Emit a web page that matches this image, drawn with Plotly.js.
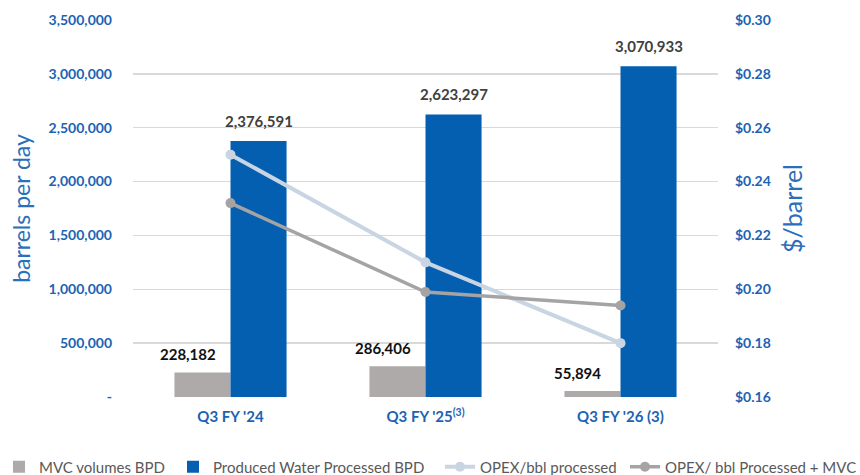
<!DOCTYPE html>
<html><head><meta charset="utf-8">
<script src="https://cdn.plot.ly/plotly-3.0.1.min.js"></script>
<style>html,body{margin:0;padding:0;background:#fff}#chart{width:860px;height:475px}</style>
</head><body><div id="chart"></div>
<script>
const categories = ["Q3 FY '24", "Q3 FY '25<sup>(3)</sup>", "Q3 FY '26 (3)"];
const mvcVolumes = [228182, 286406, 55894];
const producedWater = [2376591, 2623297, 3070933];
const opexProcessed = [0.250, 0.210, 0.180];
const opexProcessedMvc = [0.232, 0.199, 0.194];
const leftTickVals = [0, 500000, 1000000, 1500000, 2000000, 2500000, 3000000, 3500000];
const leftTickText = ["-", "500,000", "1,000,000", "1,500,000", "2,000,000", "2,500,000", "3,000,000", "3,500,000"];
const rightTickVals = [0.16, 0.18, 0.20, 0.22, 0.24, 0.26, 0.28, 0.30];
const rightTickText = ["$0.16", "$0.18", "$0.20", "$0.22", "$0.24", "$0.26", "$0.28", "$0.30"];

const FONT = "Lato, 'Open Sans', sans-serif";
const BLUE_TXT = "#1b63b3";
const fmt = v => v.toLocaleString('en-US');

const traces = [
  {type:'bar', name:'MVC volumes BPD', x:categories, y:mvcVolumes, legend:'legend',
   marker:{color:'#aeaaaa'}, hoverinfo:'none'},
  {type:'bar', name:'Produced Water Processed BPD', x:categories, y:producedWater, legend:'legend2',
   marker:{color:'#055fb0'}, hoverinfo:'none'},
  {type:'scatter', mode:'lines+markers', name:'OPEX/bbl processed', x:categories, y:opexProcessed, legend:'legend3',
   yaxis:'y2', line:{color:'#c9d5e3', width:4}, marker:{color:'#c9d5e3', size:10}, hoverinfo:'none'},
  {type:'scatter', mode:'lines+markers', name:'OPEX/ bbl Processed + MVC', x:categories, y:opexProcessedMvc, legend:'legend4',
   yaxis:'y2', line:{color:'#a5a3a3', width:3.5}, marker:{color:'#a5a3a3', size:10}, hoverinfo:'none'}
];

const annotations = categories.map((c, i) => ({
  x:c, y:mvcVolumes[i], xref:'x', yref:'y', text:fmt(mvcVolumes[i]), showarrow:false,
  xshift:-43, yshift:18, font:{family:FONT, size:15, color:'#111', weight:'bold'}
})).concat(categories.map((c, i) => ({
  x:c, y:producedWater[i], xref:'x', yref:'y', text:fmt(producedWater[i]), showarrow:false,
  xshift:28, yshift:20, font:{family:FONT, size:15, color:'#404040', weight:'bold'}
})));

const px = p => (p - 133) / 585;
const legendBase = (left) => ({orientation:'h', x:px(left), xanchor:'left', y:-0.1857, yanchor:'middle',
  font:{family:FONT, size:15, color:'#595959'}, itemwidth:30, bgcolor:'rgba(0,0,0,0)'});

const layout = {
  width:860, height:475,
  margin:{l:133, r:142, t:20, b:78, autoexpand:false},
  paper_bgcolor:'#fff', plot_bgcolor:'#fff',
  barmode:'group', bargap:0.425, bargroupgap:0,
  showlegend:true,
  legend:legendBase(-1),
  legend2:legendBase(173),
  legend3:legendBase(440),
  legend4:legendBase(625),
  xaxis:{tickfont:{family:FONT, size:15, color:BLUE_TXT, weight:'bold'}, showgrid:false,
    showline:false, zeroline:false, ticks:'', ticklabelstandoff:9, fixedrange:true},
  yaxis:{range:[0, 3500000], tickvals:leftTickVals, ticktext:leftTickText,
    tickfont:{family:FONT, size:14, color:BLUE_TXT, weight:'bold'}, ticklabelstandoff:20,
    gridcolor:'#d9d9d9', gridwidth:1.5, zeroline:false, showline:false,
    title:{text:'barrels per day', font:{family:FONT, size:23, color:'#2a6fba'}, standoff:11}},
  yaxis2:{overlaying:'y', side:'right', range:[0.16, 0.30], tickvals:rightTickVals, ticktext:rightTickText,
    tickfont:{family:FONT, size:14, color:BLUE_TXT, weight:'bold'}, ticklabelstandoff:16,
    showgrid:false, zeroline:false, showline:false,
    title:{text:'$/barrel', font:{family:FONT, size:25, color:'#2a6fba'}, standoff:14}},
  annotations:annotations
};

Plotly.newPlot('chart', traces, layout, {displayModeBar:false, staticPlot:true});
</script></body></html>
